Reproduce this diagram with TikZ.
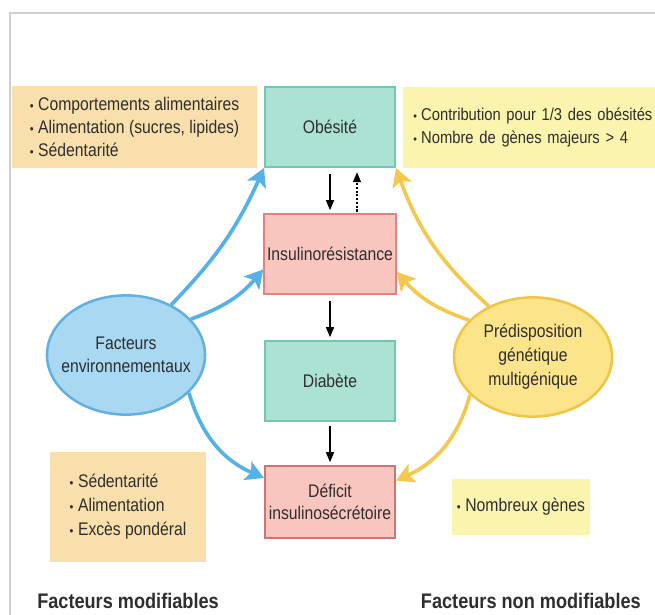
\documentclass[tikz,border=0pt]{standalone}
\usepackage{fontspec}
\setmainfont{Liberation Sans}[FakeStretch=0.86]
\usepackage{tikz}
\usetikzlibrary{shapes.geometric}
\usetikzlibrary{arrows.meta}

\definecolor{vert}{HTML}{ABE2D4}
\definecolor{vertbord}{HTML}{72C6B2}
\definecolor{rose}{HTML}{F9C5BF}
\definecolor{rosebord}{HTML}{E5827E}
\definecolor{peche}{HTML}{F9DFAC}
\definecolor{jaune}{HTML}{FAF4AE}
\definecolor{bleuov}{HTML}{A9D8F2}
\definecolor{bleubord}{HTML}{62B0E3}
\definecolor{bleufl}{HTML}{56B2E6}
\definecolor{jauneov}{HTML}{FCE48A}
\definecolor{jaunebord}{HTML}{F2C443}
\definecolor{jaunefl}{HTML}{F4C84E}
\definecolor{texte}{HTML}{2E2E2E}
\definecolor{cadre}{HTML}{CFCFCF}

\newcommand\puce{\scalebox{0.7}{\textbullet}\hspace{0.25em}}

\tikzset{
   case/.style={draw, line width=1.4pt, minimum width=3.25cm, minimum height=2cm,
      align=center, inner sep=2pt},
   ovale/.style={ellipse, line width=1.8pt, minimum width=3.95cm, minimum height=2.98cm,
      inner sep=0pt},
   liste/.style={align=left, inner ysep=0pt},
   titre/.style={font=\fontsize{15}{18}\selectfont\bfseries, inner sep=0pt},
   fine/.style={line width=1pt, -{Triangle[length=0.25cm, width=0.2cm]}},
   flechebleue/.style={bleufl, line width=2.6pt,
      -{Stealth[length=0.45cm, width=0.5cm, inset=0.1cm]}},
   flechejaune/.style={jaunefl, line width=2.6pt,
      -{Stealth[length=0.45cm, width=0.5cm, inset=0.1cm]}}
}

\begin{document}
\begin{tikzpicture}[x=0.025cm, y=-0.025cm, font=\fontsize{13}{16.5}\selectfont, text=texte]
   \clip (0,0) rectangle (655,615);
   \fill[white] (0,0) rectangle (655,615);
   \draw[cadre, line width=1.4pt] (10,615) -- (10,13) -- (655,13);

   % cascade centrale
   \node[case, fill=vert, draw=vertbord] (obe) at (330,127) {Obésité};
   \node[case, fill=rose, draw=rosebord] (ins) at (330,254) {Insulinorésistance};
   \node[case, fill=vert, draw=vertbord] (dia) at (330,381) {Diabète};
   \node[case, fill=rose, draw=rosebord!90!black, minimum height=1.8cm,
      font=\fontsize{13}{15.5}\selectfont] (def) at (330,502) {Déficit\\insulinosécrétoire};

   \draw[fine, shorten <=4pt, shorten >=2pt] (obe) -- (ins);
   \draw[fine, dash pattern=on 1.5pt off 1.2pt, shorten <=1pt, shorten >=3pt]
      ([xshift=0.675cm]ins.north) -- ([xshift=0.675cm]obe.south);
   \draw[fine, shorten <=4pt, shorten >=2pt] (ins) -- (dia);
   \draw[fine, shorten <=3pt, shorten >=2pt] (dia) -- (def);

   % facteurs
   \node[ovale, fill=bleuov, draw=bleubord] (env) at (126,355) {};
   \node[align=center] (envtxt) at (env.center) {Facteurs\\environnementaux};
   \node[ovale, fill=jauneov, draw=jaunebord] (gen) at (533,357) {};
   \node[align=center, font=\fontsize{13}{17}\selectfont] (gentxt) at (gen.center)
      {Prédisposition\\génétique\\multigénique};

   % listes
   \node[liste, fill=peche, minimum width=6.125cm, minimum height=2.05cm] (envhaut) at (134.5,127)
      {\puce Comportements alimentaires\\\puce Alimentation (sucres, lipides)\\\puce Sédentarité};
   \node[liste, fill=jaune, anchor=west, minimum width=7.5cm, minimum height=2.03cm,
      text width=7cm, inner xsep=0.225cm, font=\fontsize{12.2}{16.5}\selectfont]
      (genhaut) at (403,127.5)
      {\puce Contribution pour 1/3 des obésités\\\puce Nombre de gènes majeurs > 4};
   \node[liste, fill=peche, minimum width=3.9cm, minimum height=2.75cm,
      font=\fontsize{13}{17}\selectfont] (envbas) at (128,507)
      {\puce Sédentarité\\\puce Alimentation\\\puce Excès pondéral};
   \node[fill=jaune, minimum width=3.35cm, minimum height=1.4cm] (genbas) at (521,507)
      {\puce Nombreux gènes};

   \foreach \de/\vers/\courbe in {env.48/obe.south west/10, env.29/ins.193/15, env.-31/def.160/25}
      \draw[flechebleue] (\de) to[bend right=\courbe] (\vers);
   \foreach \de/\vers/\courbe in {gen.131/obe.south east/14, gen.150/ins.-15/15, gen.211/def.18/25}
      \draw[flechejaune] (\de) to[bend left=\courbe] (\vers);

   \node[titre, anchor=west] (modif) at (37,601) {Facteurs modifiables};
   \node[titre, anchor=east] (nonmodif) at (641,601) {Facteurs non modifiables};
\end{tikzpicture}
\end{document}
